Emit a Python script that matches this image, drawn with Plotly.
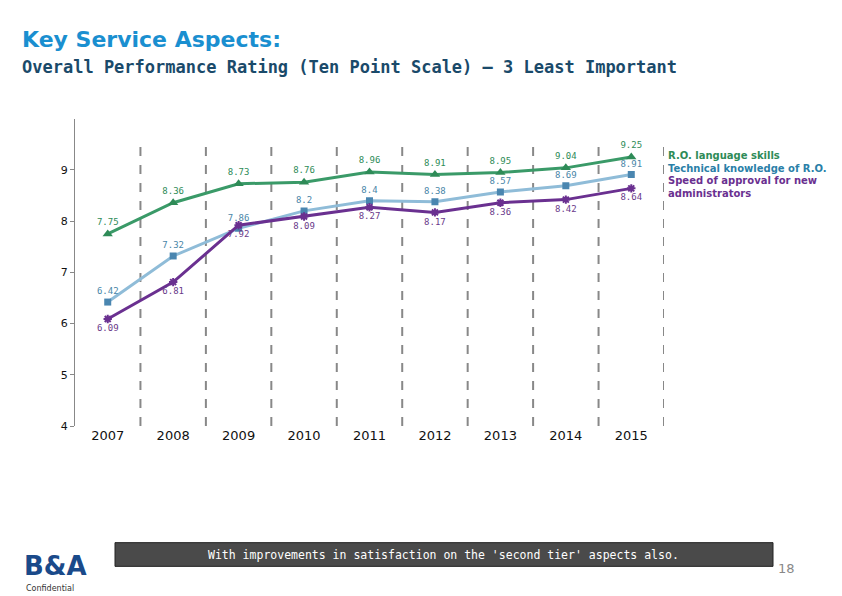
import plotly.graph_objects as go

years = ["2007","2008","2009","2010","2011","2012","2013","2014","2015"]
lang = [7.75,8.36,8.73,8.76,8.96,8.91,8.95,9.04,9.25]
tech = [6.42,7.32,7.86,8.2,8.4,8.38,8.57,8.69,8.91]
speed = [6.09,6.81,7.92,8.09,8.27,8.17,8.36,8.42,8.64]
names = ["R.O. language skills","Technical knowledge of R.O.","Speed of approval for new<br>administrators"]

W, H = 842, 596
O = 8  # page body offset
def px(v): return (v - O) / W
def py(v): return 1 - (v - O) / H

x = list(range(len(years)))
fig = go.Figure()
fig.add_trace(go.Scatter(x=x, y=lang, mode="lines+markers+text", text=[str(v) for v in lang],
    textposition="top center", textfont=dict(size=9, color="#2e8b57", family="DejaVu Sans Mono"),
    line=dict(color="#3a9a68", width=3), marker=dict(symbol="triangle-up", size=9, color="#2e8b57")))
fig.add_trace(go.Scatter(x=x, y=tech, mode="lines+markers+text", text=[str(v) for v in tech],
    textposition="top center", textfont=dict(size=9, color="#4a86a8", family="DejaVu Sans Mono"),
    line=dict(color="#8fbcd8", width=3), marker=dict(symbol="square", size=7, color="#4a86b0")))
fig.add_trace(go.Scatter(x=x, y=speed, mode="lines+markers+text", text=[str(v) for v in speed],
    textposition="bottom center", textfont=dict(size=9, color="#6a3a8a", family="DejaVu Sans Mono"),
    line=dict(color="#6a3090", width=3), marker=dict(symbol="asterisk", size=7, color="#6a3090", line=dict(width=2, color="#6a3090"))))

shapes = [dict(type="rect", xref="paper", yref="paper", x0=px(115), x1=px(773), y0=py(573), y1=py(549),
               fillcolor="#4a4a4a", line=dict(color="#222", width=1), layer="below")]
for i in range(len(years)):
    shapes.append(dict(type="line", xref="x", yref="y", x0=i+0.5, x1=i+0.5, y0=4, y1=9.6,
                       line=dict(color="#888", width=2, dash="dash"), layer="below"))

fig.update_layout(
    width=W, height=H, showlegend=False, plot_bgcolor="white", paper_bgcolor="white",
    margin=dict(l=0, r=0, t=0, b=0), shapes=shapes,
    xaxis=dict(domain=[px(75), px(664)], range=[-0.5, 8.5], tickvals=x, ticktext=years,
               tickfont=dict(size=13, color="#111", family="DejaVu Sans"), showgrid=False, zeroline=False,
               showline=False),
    yaxis=dict(domain=[py(431), py(120)], range=[4, 10], tickvals=[4,5,6,7,8,9],
               tickfont=dict(size=11, color="#111", family="DejaVu Sans"), showgrid=False, zeroline=False,
               showline=True, linecolor="#888", ticks="outside", ticklen=4, tickcolor="#888"),
    annotations=[
        dict(text="<b>Key Service Aspects:</b>", x=px(20), y=py(40), xref="paper", yref="paper",
             xanchor="left", yanchor="middle", showarrow=False, font=dict(size=22, color="#1a8fd0", family="DejaVu Sans")),
        dict(text="<b>Overall Performance Rating (Ten Point Scale) – 3 Least Important</b>", x=px(20), y=py(68),
             xref="paper", yref="paper", xanchor="left", yanchor="middle", showarrow=False,
             font=dict(size=17, color="#1a4a6a", family="DejaVu Sans Mono")),
        dict(text="<b>"+names[0]+"</b>", x=px(666), y=py(157), xref="paper", yref="paper", xanchor="left",
             yanchor="middle", showarrow=False, font=dict(size=10, color="#2e8b57", family="DejaVu Sans")),
        dict(text="<b>"+names[1]+"</b>", x=px(666), y=py(170), xref="paper", yref="paper", xanchor="left",
             yanchor="middle", showarrow=False, font=dict(size=10, color="#2a7fa8", family="DejaVu Sans")),
        dict(text="<b>"+names[2]+"</b>", x=px(666), y=py(189), xref="paper", yref="paper", xanchor="left",
             yanchor="middle", align="left", showarrow=False, font=dict(size=10, color="#6a3090", family="DejaVu Sans")),
        dict(text="With improvements in satisfaction on the 'second tier' aspects also.", x=px(444), y=py(561),
             xref="paper", yref="paper", xanchor="center", yanchor="middle", showarrow=False,
             font=dict(size=11.5, color="white", family="DejaVu Sans Mono")),
        dict(text="18", x=px(776), y=py(575), xref="paper", yref="paper", xanchor="left", yanchor="middle",
             showarrow=False, font=dict(size=13, color="#888", family="DejaVu Sans")),
        dict(text="<b>B&A</b>", x=px(55), y=py(573), xref="paper", yref="paper", xanchor="center", yanchor="middle",
             showarrow=False, font=dict(size=26, color="#1a4a8a", family="DejaVu Sans")),
        dict(text="Confidential", x=px(50), y=py(595), xref="paper", yref="paper", xanchor="center", yanchor="middle",
             showarrow=False, font=dict(size=8, color="#333", family="DejaVu Sans")),
    ],
)
fig.write_html("out.html")
